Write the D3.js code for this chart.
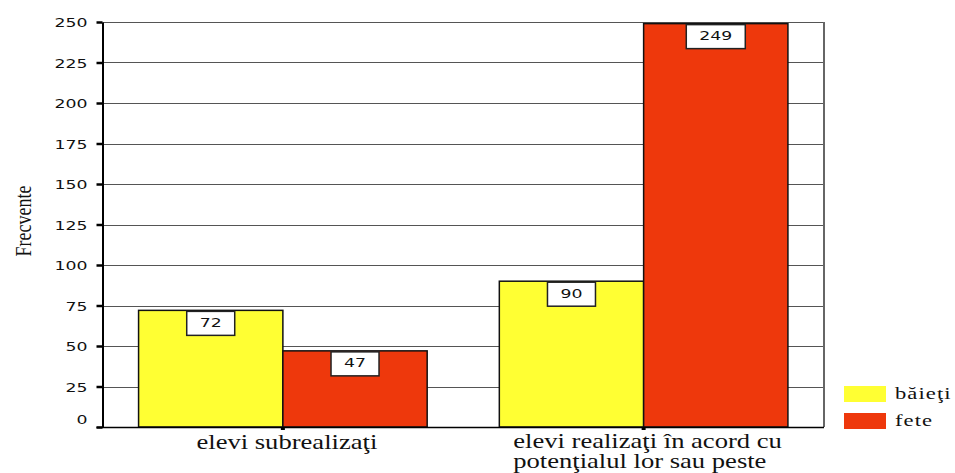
<!DOCTYPE html>
<html>
<head>
<meta charset="utf-8">
<script src="https://cdn.jsdelivr.net/npm/d3@7"></script>
<style>
  html, body { margin: 0; padding: 0; background: #fff; }
  svg { display: block; }
</style>
</head>
<body>
<svg id="chart" width="955" height="473"></svg>
<script>
// Chart data
const categories = ["elevi subrealizaţi", "elevi realizaţi în acord cu\npotenţialul lor sau peste"];
const seriesNames = ["băieţi", "fete"];
const baieti = [72, 90];
const fete = [47, 249];
const yTicks = [0, 25, 50, 75, 100, 125, 150, 175, 200, 225, 250];
const yLabel = "Frecvente";

const colors = { "băieţi": "#FFFF33", "fete": "#EE380C" };
const seriesValues = { "băieţi": baieti, "fete": fete };

// Glyphs are drawn wider than normal (horizontal stretch)
const SX = 1.33;

const svg = d3.select("#chart");
const plot = { left: 102.5, right: 824, top: 22, bottom: 427 };

const x0 = d3.scaleBand()
  .domain(categories)
  .range([plot.left, plot.right])
  .paddingInner(0.2)
  .paddingOuter(0.1);

const x1 = d3.scaleBand()
  .domain(seriesNames)
  .range([0, x0.bandwidth()]);

const y = d3.scaleLinear()
  .domain([0, 250])
  .range([plot.bottom, plot.top]);

// Horizontal gridlines
svg.append("g")
  .selectAll("line")
  .data(yTicks.filter(d => d > 0))
  .join("line")
  .attr("x1", plot.left)
  .attr("x2", plot.right)
  .attr("y1", d => Math.round(y(d)) + 0.5)
  .attr("y2", d => Math.round(y(d)) + 0.5)
  .attr("stroke", "#555")
  .attr("stroke-width", 1.2);

// Right frame line
svg.append("line")
  .attr("x1", plot.right).attr("x2", plot.right)
  .attr("y1", plot.top).attr("y2", plot.bottom)
  .attr("stroke", "#666")
  .attr("stroke-width", 2);

// Bars
const groups = svg.append("g")
  .selectAll("g")
  .data(categories.map((c, i) => ({ c, i })))
  .join("g")
  .attr("transform", d => `translate(${x0(d.c)},0)`);

const bars = groups.selectAll("g.bar")
  .data(d => seriesNames.map(s => ({ s, v: seriesValues[s][d.i] })))
  .join("g")
  .attr("class", "bar");

bars.append("rect")
  .attr("x", d => x1(d.s))
  .attr("y", d => y(d.v))
  .attr("width", x1.bandwidth())
  .attr("height", d => y(0) - y(d.v))
  .attr("fill", d => colors[d.s])
  .attr("stroke", "#111")
  .attr("stroke-width", 1.5);

// Value boxes at the top of each bar
const numFont = "DejaVu Sans, Verdana, sans-serif";
bars.each(function (d) {
  const g = d3.select(this);
  const cx = x1(d.s) + x1.bandwidth() / 2;
  const top = y(d.v);
  const label = String(d.v);
  const boxW = label.length * 11 + 26;
  g.append("rect")
    .attr("x", cx - boxW / 2)
    .attr("y", top + 1)
    .attr("width", boxW)
    .attr("height", 24)
    .attr("fill", "#fff")
    .attr("stroke", "#222")
    .attr("stroke-width", 1.5);
  g.append("text")
    .attr("transform", `translate(${cx},${top + 16.5}) scale(${SX},1)`)
    .attr("text-anchor", "middle")
    .attr("font-family", numFont)
    .attr("font-size", 13)
    .attr("fill", "#111")
    .text(label);
});

// Y axis
const yAxis = svg.append("g")
  .attr("transform", `translate(${plot.left},0)`)
  .call(d3.axisLeft(y).tickValues(yTicks).tickSizeInner(6).tickSizeOuter(0).tickPadding(9));
yAxis.select(".domain").attr("stroke", "#000").attr("stroke-width", 2);
yAxis.selectAll(".tick line").attr("stroke", "#000").attr("stroke-width", 2.5);
yAxis.selectAll(".tick text")
  .attr("x", null)
  .attr("dy", d => d === 0 ? "-0.3em" : "0.36em")
  .attr("transform", `translate(-15,0) scale(${SX},1)`)
  .attr("font-family", numFont)
  .attr("font-size", 13)
  .attr("fill", "#111");

// X axis
const xAxis = svg.append("g")
  .attr("transform", `translate(0,${plot.bottom})`)
  .call(d3.axisBottom(x0).tickSizeInner(3).tickSizeOuter(0).tickFormat(""));
xAxis.select(".domain").attr("stroke", "#000").attr("stroke-width", 1.5)
  .attr("d", `M${plot.left - 6},0.5H${plot.right}`);
xAxis.selectAll(".tick line").attr("stroke", "#000").attr("stroke-width", 4);

// Category labels
const serif = "Liberation Serif, Times New Roman, serif";
categories.forEach(c => {
  const lines = c.split("\n");
  const cx = x0(c) + x0.bandwidth() / 2;
  const t = svg.append("text")
    .attr("font-family", serif)
    .attr("font-size", 20)
    .attr("fill", "#111");
  if (lines.length === 1) {
    t.attr("transform", `translate(${cx + 4},449) scale(${SX},1)`)
      .attr("text-anchor", "middle")
      .text(lines[0]);
  } else {
    // left-aligned block, first line roughly centred on the group
    const probe = t.append("tspan").text(lines[0]);
    const w = probe.node().getComputedTextLength() * SX;
    probe.remove();
    const startX = cx - w / 2 + 4;
    t.attr("transform", `translate(${startX},448) scale(${SX},1)`);
    lines.forEach((ln, i) => {
      t.append("tspan").attr("x", 0).attr("dy", i === 0 ? 0 : 20).text(ln);
    });
  }
});

// Y-axis title
svg.append("text")
  .attr("transform", `translate(31,221) scale(${SX},1) rotate(-90)`)
  .attr("text-anchor", "middle")
  .attr("font-family", serif)
  .attr("font-size", 18)
  .attr("fill", "#111")
  .text(yLabel);

// Legend
const legend = svg.append("g")
  .selectAll("g")
  .data(seriesNames)
  .join("g")
  .attr("transform", (d, i) => `translate(844,${386 + i * 27})`);
legend.append("rect")
  .attr("width", 42)
  .attr("height", 16)
  .attr("fill", d => colors[d]);
legend.append("text")
  .attr("transform", `translate(51,13) scale(${SX},1)`)
  .attr("font-family", serif)
  .attr("font-size", 17)
  .attr("letter-spacing", 0.8)
  .attr("fill", "#111")
  .text(d => d);
</script>
</body>
</html>
